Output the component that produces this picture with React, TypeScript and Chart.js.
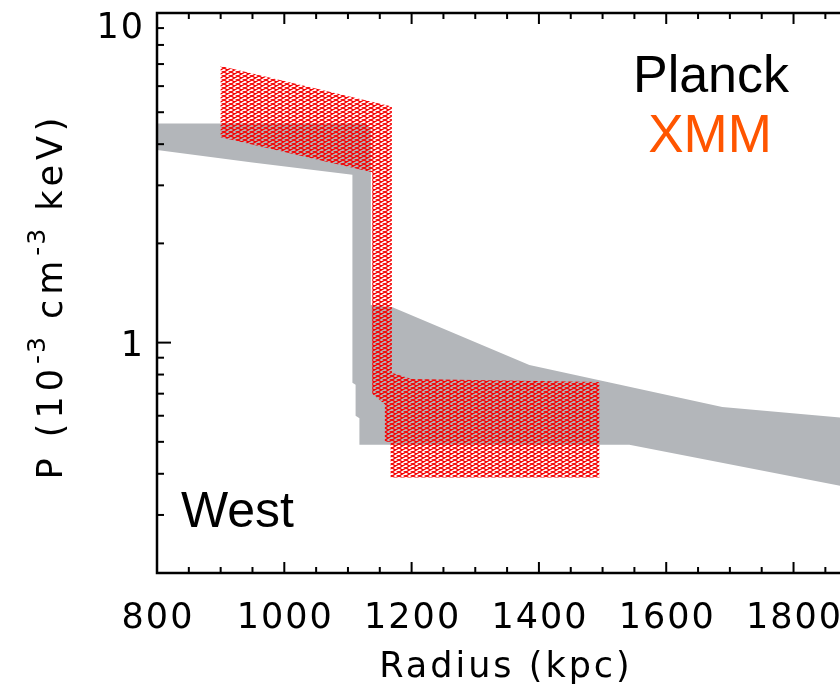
import React, { useEffect, useRef } from "react";
import { Chart, registerables } from "chart.js";

Chart.register(...registerables);

// ---- axis ranges & ticks ----
const X_MIN = 800;
const X_MAX = 1873;
const Y_MIN = 0.2;
const Y_MAX = 10;
const X_TICKS = [800, 1000, 1200, 1400, 1600, 1800];
const X_MINOR_STEP = 50;
const Y_TICKS = [1, 10];
const Y_TICK_LABELS = ["1", "10"];
const Y_MINOR = [0.2, 0.3, 0.4, 0.5, 0.6, 0.7, 0.8, 0.9, 2, 3, 4, 5, 6, 7, 8, 9];

// ---- texts ----
const X_TITLE = "Radius (kpc)";
const LABEL_PLANCK = "Planck";
const LABEL_XMM = "XMM";
const LABEL_REGION = "West";

// ---- Planck pressure band (outline of the grey region) ----
const PLANCK_X = [800, 1128, 1136, 1136, 1170, 1385, 1688, 1873, 1873, 1542, 1118, 1118, 1112, 1112, 1107, 1107, 950, 800];
const PLANCK_Y = [4.62, 4.62, 4.45, 1.3, 1.28, 0.855, 0.638, 0.593, 0.368, 0.49, 0.49, 0.59, 0.6, 0.745, 0.755, 3.23, 3.52, 3.84];

// ---- XMM pressure band (outline of the red hatched region) ----
const XMM_X = [900, 1169, 1169, 1200, 1495, 1495, 1167, 1167, 1158, 1158, 1138, 1138, 900];
const XMM_Y = [6.9, 5.2, 0.81, 0.775, 0.76, 0.39, 0.39, 0.5, 0.5, 0.65, 0.7, 3.29, 4.2];

const GREY = "#b3b6ba";
const ORANGE = "#ff5500";

function makeHatch(): CanvasPattern | string {
  const c = document.createElement("canvas");
  c.width = 7;
  c.height = 4;
  const g = c.getContext("2d");
  if (!g) return "rgba(230,0,0,0.5)";
  g.strokeStyle = "rgba(245,0,0,1)";
  g.lineWidth = 1.25;
  g.beginPath();
  g.moveTo(-7, -4);
  g.lineTo(14, 8);
  g.moveTo(-7, 8);
  g.lineTo(14, -4);
  g.stroke();
  return g.createPattern(c, "repeat") || "rgba(230,0,0,0.5)";
}

const axesPlugin = {
  id: "idlAxes",
  afterDraw(chart: any) {
    const { ctx, chartArea } = chart;
    const xs = chart.scales.x;
    const ys = chart.scales.y;
    const L = chartArea.left;
    const R = chartArea.right;
    const T = chartArea.top;
    const B = chartArea.bottom;
    ctx.save();
    ctx.strokeStyle = "#000";
    ctx.fillStyle = "#000";
    ctx.lineCap = "butt";

    // axis lines
    ctx.lineWidth = 2.5;
    ctx.beginPath();
    ctx.moveTo(R, T);
    ctx.lineTo(L, T);
    ctx.lineTo(L, B);
    ctx.lineTo(R, B);
    ctx.stroke();

    // x ticks (bottom, top), pointing inward
    ctx.lineWidth = 2;
    for (let v = X_MIN; v <= X_MAX; v += X_MINOR_STEP) {
      const px = xs.getPixelForValue(v);
      if (px <= L + 1 || px >= R) continue;
      const major = X_TICKS.includes(v);
      const len = major ? 11 : 6;
      ctx.beginPath();
      ctx.moveTo(px, B);
      ctx.lineTo(px, B - len);
      ctx.moveTo(px, T);
      ctx.lineTo(px, T + len);
      ctx.stroke();
    }
    // y ticks
    const allY = [...Y_TICKS.map((v) => [v, 14]), ...Y_MINOR.map((v) => [v, 7])];
    for (const [v, len] of allY) {
      const py = ys.getPixelForValue(v);
      if (py < T - 1 || py > B - 1) continue;
      ctx.beginPath();
      ctx.moveTo(L, py);
      ctx.lineTo(L + len, py);
      ctx.stroke();
    }

    // tick labels
    ctx.font = '35px "DejaVu Sans"';
    (ctx as any).letterSpacing = "2px";
    ctx.textBaseline = "alphabetic";
    ctx.textAlign = "center";
    for (const v of X_TICKS) {
      const px = xs.getPixelForValue(v);
      ctx.fillText(String(v), px + 1, B + 55);
    }
    ctx.textAlign = "right";
    Y_TICKS.forEach((v, i) => {
      let py = ys.getPixelForValue(v);
      if (py < T + 12) py = T + 12;
      ctx.fillText(Y_TICK_LABELS[i], L - 12, py + 13);
    });

    // x title
    ctx.textAlign = "center";
    (ctx as any).letterSpacing = "3px";
    ctx.fillText(X_TITLE, 506, 677);

    // y title (rotated, with superscripts)
    ctx.save();
    ctx.translate(62, 296);
    ctx.rotate(-Math.PI / 2);
    ctx.textAlign = "left";
    const parts: [string, boolean][] = [
      ["P (10", false],
      ["-3", true],
      [" cm", false],
      ["-3", true],
      [" keV)", false],
    ];
    const mainFont = '35px "DejaVu Sans"';
    const supFont = '25px "DejaVu Sans"';
    let total = 0;
    for (const [s, sup] of parts) {
      ctx.font = sup ? supFont : mainFont;
      (ctx as any).letterSpacing = sup ? "2px" : "5px";
      total += ctx.measureText(s).width;
    }
    let cx = -total / 2;
    for (const [s, sup] of parts) {
      ctx.font = sup ? supFont : mainFont;
      (ctx as any).letterSpacing = sup ? "2px" : "5px";
      ctx.fillText(s, cx, sup ? -17 : 0);
      cx += ctx.measureText(s).width;
    }
    ctx.restore();

    // annotations
    (ctx as any).letterSpacing = "0px";
    ctx.textAlign = "center";
    ctx.font = '52px "Liberation Sans", Arial, sans-serif';
    ctx.fillStyle = "#000";
    ctx.fillText(LABEL_PLANCK, 711, 92);
    ctx.font = '53px "Liberation Sans", Arial, sans-serif';
    ctx.fillStyle = ORANGE;
    ctx.fillText(LABEL_XMM, 710, 152);
    ctx.textAlign = "left";
    ctx.font = '50px "Liberation Sans", Arial, sans-serif';
    ctx.fillStyle = "#000";
    ctx.fillText(LABEL_REGION, 181, 527);

    ctx.restore();
  },
};

export default function App() {
  const ref = useRef<HTMLCanvasElement | null>(null);

  useEffect(() => {
    document.body.style.margin = "0";
    const canvas = ref.current;
    if (!canvas) return;
    const hatch = makeHatch();
    const chart = new Chart(canvas, {
      type: "line",
      data: {
        datasets: [
          {
            label: "XMM",
            data: XMM_X.map((x, i) => ({ x, y: XMM_Y[i] })),
            backgroundColor: hatch as any,
            borderColor: "rgba(0,0,0,0)",
            borderWidth: 0,
            pointRadius: 0,
            tension: 0,
            fill: "shape",
            order: 0,
          },
          {
            label: "Planck",
            data: PLANCK_X.map((x, i) => ({ x, y: PLANCK_Y[i] })),
            backgroundColor: GREY,
            borderColor: "rgba(0,0,0,0)",
            borderWidth: 0,
            pointRadius: 0,
            tension: 0,
            fill: "shape",
            order: 1,
          },
        ],
      },
      options: {
        animation: false,
        responsive: false,
        devicePixelRatio: 1,
        events: [],
        layout: { padding: { left: 157, right: 0, top: 13, bottom: 119 } },
        plugins: { legend: { display: false }, tooltip: { enabled: false } },
        scales: {
          x: { type: "linear", min: X_MIN, max: X_MAX, display: false },
          y: { type: "logarithmic", min: Y_MIN, max: Y_MAX, display: false },
        },
      },
      plugins: [axesPlugin],
    } as any);
    return () => chart.destroy();
  }, []);

  return (
    <div style={{ width: 840, height: 692 }}>
      <canvas ref={ref} width={840} height={692} style={{ display: "block" }} />
    </div>
  );
}
